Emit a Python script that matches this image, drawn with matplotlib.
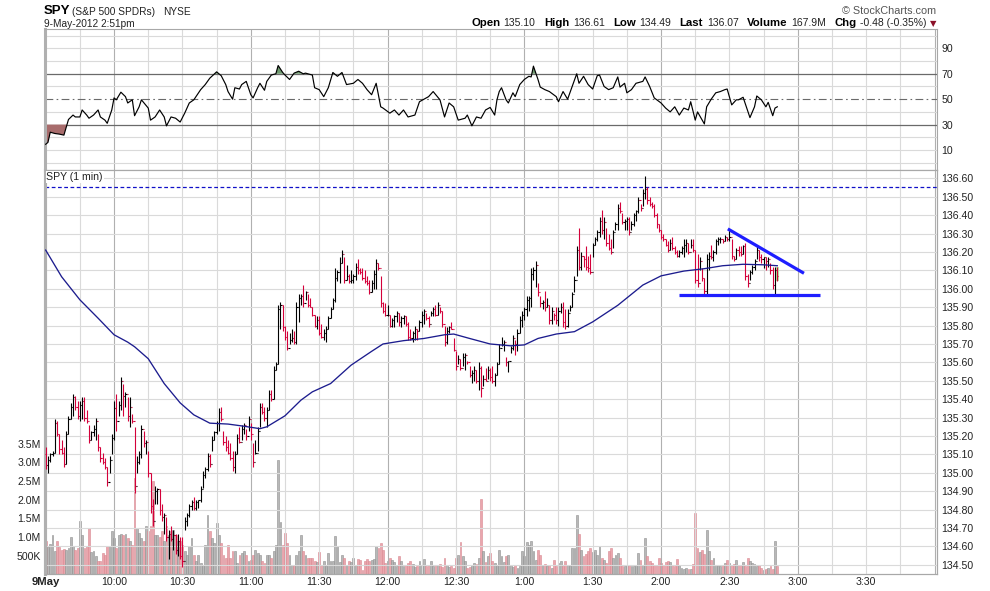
import numpy as np
import matplotlib
matplotlib.use("Agg")
import matplotlib.pyplot as plt
from matplotlib.collections import LineCollection
from matplotlib.patches import Rectangle

plt.rcParams['font.family'] = ['Liberation Sans', 'DejaVu Sans']

# ---- data ----
# one-minute bars starting 9:30, prices in cents above 134.00
PRICE_BASE = 134.00
first_open_c = 110

high_c = [
    114, 109, 111, 112, 129, 128, 121, 118, 114, 123,
    131, 138, 143, 142, 139, 139, 141, 141, 134, 126,
    123, 126, 130, 121, 114, 111, 108, 103, 109, 121,
    139, 143, 139, 152, 148, 144, 141, 141, 132, 125,
    109, 112, 126, 123, 118, 112, 100, 86, 93, 92,
    91, 83, 78, 76, 69, 71, 69, 67, 67, 65,
    65, 76, 78, 83, 85, 87, 85, 85, 93, 101,
    103, 111, 110, 120, 123, 128, 135, 136, 123, 120,
    118, 116, 112, 112, 121, 125, 126, 127, 124, 131,
    127, 116, 118, 125, 138, 138, 136, 136, 145, 145,
    158, 160, 191, 193, 191, 180, 177, 176, 178, 177,
    193, 197, 197, 202, 199, 197, 195, 190, 186, 185,
    185, 181, 178, 180, 185, 190, 195, 211, 210, 217,
    221, 217, 213, 208, 210, 208, 214, 216, 211, 211,
    210, 207, 205, 205, 210, 216, 214, 207, 193, 192,
    191, 186, 184, 186, 188, 187, 185, 186, 185, 182,
    178, 177, 180, 178, 183, 188, 189, 187, 185, 188,
    190, 191, 193, 190, 188, 180, 179, 180, 182, 173,
    166, 164, 162, 165, 165, 161, 158, 156, 158, 156,
    160, 158, 153, 157, 158, 157, 158, 154, 160, 170,
    174, 172, 163, 161, 169, 175, 172, 178, 185, 188,
    190, 196, 196, 211, 212, 215, 203, 196, 194, 199,
    195, 191, 190, 187, 190, 190, 192, 193, 189, 189,
    191, 198, 207, 223, 233, 220, 218, 223, 218, 219,
    225, 228, 232, 239, 243, 239, 233, 230, 227, 232,
    236, 246, 247, 241, 238, 239, 239, 237, 241, 243,
    250, 246, 254, 261, 255, 250, 247, 246, 241, 235,
    232, 230, 227, 226, 227, 228, 223, 221, 221, 223,
    227, 227, 225, 227, 227, 221, 219, 217, 211, 206,
    219, 220, 224, 221, 227, 228, 228, 227, 229, 228,
    232, 227, 218, 222, 223, 223, 224, 225, 208, 210,
    213, 216, 223, 221, 219, 217, 217, 217, 214, 212,
    212, 212,
]

low_c = [
    102, 100, 106, 109, 111, 120, 110, 110, 103, 105,
    121, 129, 131, 134, 129, 128, 129, 128, 127, 116,
    118, 120, 118, 112, 106, 105, 102, 93, 100, 110,
    118, 123, 131, 134, 131, 136, 128, 125, 127, 89,
    100, 105, 108, 114, 110, 98, 78, 71, 83, 83,
    77, 74, 67, 63, 53, 63, 58, 56, 55, 53,
    49, 69, 71, 76, 80, 80, 80, 81, 84, 92,
    97, 101, 103, 112, 118, 121, 123, 128, 115, 112,
    110, 107, 101, 100, 110, 116, 118, 121, 118, 123,
    118, 103, 110, 112, 125, 132, 128, 125, 134, 139,
    140, 156, 159, 178, 177, 172, 167, 170, 171, 170,
    170, 182, 191, 190, 194, 190, 190, 185, 179, 178,
    175, 173, 172, 171, 178, 184, 189, 193, 204, 203,
    214, 203, 205, 203, 203, 203, 205, 208, 208, 205,
    203, 202, 197, 198, 200, 200, 210, 190, 187, 185,
    185, 179, 179, 179, 182, 180, 179, 181, 180, 172,
    172, 171, 172, 172, 177, 179, 181, 183, 179, 185,
    185, 185, 186, 187, 179, 169, 170, 176, 178, 166,
    156, 159, 156, 158, 156, 159, 152, 149, 150, 149,
    145, 141, 147, 150, 151, 150, 149, 147, 153, 159,
    169, 166, 158, 155, 165, 167, 164, 166, 176, 179,
    183, 185, 188, 190, 205, 201, 196, 190, 189, 188,
    190, 181, 181, 183, 181, 180, 187, 179, 178, 179,
    188, 190, 198, 207, 210, 210, 212, 210, 209, 208,
    217, 224, 226, 228, 230, 227, 223, 221, 219, 222,
    232, 232, 241, 235, 232, 232, 229, 232, 234, 237,
    241, 242, 245, 249, 246, 245, 244, 239, 233, 231,
    227, 226, 223, 220, 221, 221, 219, 217, 217, 219,
    217, 220, 219, 222, 220, 203, 201, 210, 204, 197,
    197, 210, 216, 215, 219, 224, 225, 225, 226, 226,
    226, 216, 215, 216, 218, 218, 219, 205, 201, 205,
    208, 210, 216, 215, 214, 211, 210, 212, 208, 200,
    197, 204,
]

close_c = [
    104, 107, 110, 111, 127, 121, 113, 111, 105, 121,
    129, 136, 141, 136, 131, 137, 139, 130, 128, 118,
    122, 124, 128, 114, 108, 106, 103, 95, 107, 119,
    135, 128, 137, 150, 142, 143, 131, 136, 128, 93,
    106, 110, 124, 116, 117, 100, 82, 74, 90, 91,
    80, 76, 77, 65, 67, 64, 66, 58, 63, 55,
    52, 74, 77, 82, 84, 81, 84, 85, 91, 99,
    102, 109, 105, 118, 122, 127, 133, 129, 117, 114,
    111, 108, 103, 110, 119, 117, 124, 126, 120, 129,
    121, 106, 111, 123, 136, 133, 130, 134, 143, 140,
    156, 159, 189, 191, 179, 174, 168, 172, 173, 171,
    190, 195, 196, 192, 198, 191, 190, 186, 180, 183,
    176, 174, 176, 178, 184, 189, 194, 206, 209, 214,
    219, 205, 207, 204, 205, 207, 212, 210, 209, 206,
    204, 203, 198, 203, 208, 214, 211, 192, 188, 186,
    186, 180, 183, 185, 187, 182, 184, 185, 181, 174,
    173, 176, 178, 177, 182, 186, 188, 184, 181, 187,
    189, 186, 191, 188, 181, 171, 177, 179, 178, 167,
    158, 162, 157, 163, 164, 160, 153, 154, 156, 150,
    157, 146, 151, 150, 156, 152, 150, 153, 159, 168,
    170, 171, 160, 161, 168, 173, 170, 176, 183, 186,
    189, 194, 195, 208, 210, 213, 198, 192, 193, 190,
    191, 183, 188, 186, 183, 188, 190, 182, 180, 187,
    190, 197, 205, 221, 212, 218, 216, 212, 211, 209,
    224, 227, 231, 237, 232, 236, 225, 222, 220, 231,
    235, 244, 242, 236, 237, 238, 231, 235, 240, 242,
    248, 244, 252, 254, 248, 246, 245, 240, 235, 232,
    228, 227, 224, 221, 225, 222, 220, 218, 220, 222,
    224, 225, 220, 224, 221, 205, 203, 215, 206, 199,
    216, 218, 217, 220, 226, 227, 227, 226, 228, 227,
    228, 218, 216, 221, 220, 219, 223, 207, 203, 209,
    212, 215, 221, 217, 216, 217, 215, 216, 210, 202,
    210, 207,
]

# volume per bar, thousands of shares
volume_k = [
    885, 720, 810, 1060, 620, 900, 720, 660, 690, 660,
    705, 1000, 750, 660, 700, 1420, 1050, 700, 750, 1240,
    600, 615, 500, 350, 360, 570, 520, 750, 770, 1170,
    975, 710, 1050, 1080, 1050, 1080, 975, 885, 795, 2580,
    1240, 1100, 975, 885, 1300, 1150, 1300, 2500, 1060, 1060,
    1000, 1150, 885, 1300, 1060, 1150, 1200, 1060, 885, 885,
    790, 615, 520, 750, 975, 520, 350, 525, 300, 260,
    795, 1600, 1150, 975, 840, 1370, 1060, 840, 525, 435,
    795, 435, 615, 615, 300, 525, 570, 615, 520, 350,
    390, 525, 660, 570, 520, 350, 300, 525, 520, 435,
    615, 795, 3075, 1400, 795, 1100, 840, 525, 260, 260,
    520, 615, 1060, 615, 525, 435, 450, 438, 370, 340,
    600, 260, 350, 215, 570, 350, 350, 1036, 750, 340,
    527, 438, 260, 349, 340, 450, 260, 420, 393, 125,
    370, 420, 349, 393, 420, 750, 706, 840, 661, 304,
    349, 450, 393, 340, 215, 483, 349, 215, 259, 304,
    370, 280, 190, 215, 349, 259, 420, 215, 259, 349,
    215, 259, 259, 280, 190, 450, 259, 190, 215, 170,
    438, 527, 866, 483, 349, 170, 190, 259, 304, 280,
    450, 2030, 617, 340, 483, 572, 349, 304, 259, 661,
    483, 340, 483, 527, 259, 190, 259, 170, 215, 617,
    483, 866, 795, 884, 617, 393, 661, 527, 259, 280,
    215, 259, 170, 393, 215, 304, 349, 215, 349, 237,
    215, 706, 706, 1600, 1090, 661, 483, 545, 617, 706,
    600, 661, 527, 750, 438, 393, 304, 617, 706, 438,
    527, 572, 438, 215, 215, 259, 259, 215, 215, 237,
    572, 393, 259, 973, 483, 349, 304, 259, 259, 438,
    304, 259, 340, 349, 340, 259, 215, 420, 237, 170,
    150, 170, 150, 150, 280, 1640, 706, 600, 661, 545,
    1200, 617, 393, 450, 259, 215, 215, 259, 304, 393,
    304, 237, 280, 393, 237, 259, 340, 215, 450, 370,
    304, 280, 215, 259, 170, 125, 150, 170, 215, 150,
    884, 215,
]

# RSI read at these minute positions
rsi_at = [
    0, 1, 2, 4, 6, 8, 9, 10, 12, 13, 15, 16, 18, 19, 21, 23, 24, 26, 27, 29,
    30, 31, 33, 35, 36, 38, 39, 41, 42, 45, 46, 48, 50, 52, 53, 55, 57, 59, 61, 63,
    65, 68, 70, 72, 75, 77, 79, 80, 82, 83, 85, 86, 88, 90, 91, 93, 94, 96, 97, 99,
    101, 102, 104, 105, 107, 109, 111, 113, 114, 117, 118, 120, 122, 124, 126, 128, 130, 132, 135, 137,
    139, 141, 143, 145, 147, 148, 151, 153, 155, 157, 159, 162, 164, 166, 168, 170, 173, 175, 177, 179,
    181, 184, 185, 187, 189, 191, 193, 195, 197, 198, 199, 200, 202, 203, 205, 206, 208, 210, 212, 213,
    214, 216, 217, 219, 221, 224, 225, 227, 229, 231, 233, 234, 236, 238, 240, 242, 243, 245, 247, 249,
    251, 252, 254, 255, 257, 259, 262, 263, 265, 267, 270, 272, 274, 276, 278, 280, 282, 283, 285, 286,
    289, 290, 292, 294, 296, 298, 299, 301, 303, 304, 306, 309, 311, 312, 314, 316, 317, 319, 320, 321,
]
rsi_val = [
    14.5, 16, 24, 23, 22.5, 21.7, 28, 34, 37.5, 36, 36, 41.5, 37.5, 35, 37.5, 41.5, 36, 33.5, 31, 41.5,
    51, 49.5, 55.5, 52, 47, 49.5, 37, 44, 49.5, 43, 33.5, 36, 41.5, 36, 29, 36, 35, 32, 39, 47,
    49.5, 57.5, 61.5, 66.5, 71.5, 68.5, 61.5, 56, 50, 59, 58, 61.5, 64, 53.5, 51, 59, 62.5, 57, 64, 69,
    70, 76.5, 71, 69, 65.5, 70.5, 72, 70, 70.5, 69, 59, 57.5, 52, 59, 71, 68, 71, 61.5, 62.5, 65.5,
    62.5, 57.5, 53.5, 62.5, 44, 43, 39, 41.5, 37.5, 41.5, 36, 37.5, 48, 50, 52, 56, 49.5, 36, 47, 44,
    33.5, 35, 37.5, 29, 36, 35, 41.5, 43.5, 37.5, 49.5, 56, 59, 49.5, 47, 55, 52, 61.5, 65.5, 68, 67.5,
    76, 65.5, 59.5, 57.5, 56, 52, 48, 56, 50, 60, 70, 62.5, 68, 61.5, 58, 68.5, 69, 60, 57.5, 59,
    67.5, 59.5, 62.5, 55, 57.5, 62.5, 64, 67.5, 60, 51, 47, 43, 40, 44, 37.5, 43, 41.5, 48, 33.5, 40,
    30.5, 44, 50, 55, 56, 57.5, 58, 45.5, 49.5, 49.5, 51.5, 35.5, 44, 52.5, 49.5, 44, 47.5, 37, 43, 44,
]

# moving average read at these minute positions
ma_at = [0, 7, 15, 23, 30, 36, 39, 45, 52, 59, 65, 72, 80, 86, 94, 97, 105, 112, 117, 125,
         134, 143, 148, 157, 166, 175, 179, 186, 195, 204, 210, 216, 224, 232, 240, 251, 262, 270, 280, 289,
         297, 306, 315, 321]
ma_val = [136.21, 136.065, 135.94, 135.84, 135.75, 135.71, 135.685, 135.62, 135.485, 135.38,
          135.315, 135.27, 135.265, 135.255, 135.24, 135.25, 135.31, 135.395, 135.44, 135.485,
          135.585, 135.66, 135.70, 135.718, 135.73, 135.75, 135.754, 135.73, 135.70, 135.69,
          135.695, 135.73, 135.754, 135.767, 135.82, 135.91, 136.02, 136.07, 136.096, 136.109,
          136.125, 136.133, 136.13, 136.125]

prev_close = 136.55
falling_at = [299.3, 332.7]
falling_val = [136.325, 136.084]
flat_at = [277.9, 339.8]
flat_val = [135.967, 135.967]

time_at = [0, 30, 60, 90, 120, 150, 180, 210, 240, 270, 300, 330, 360]
time_lbl = ['9May', '10:00', '10:30', '11:00', '11:30', '12:00', '12:30',
            '1:00', '1:30', '2:00', '2:30', '3:00', '3:30']
vol_ticks = [500, 1000, 1500, 2000, 2500, 3000, 3500]
vol_lbl = ['500K', '1.0M', '1.5M', '2.0M', '2.5M', '3.0M', '3.5M']
rsi_ticks = [10, 30, 50, 70, 90]

header = [("Open", "135.10"), ("High", "136.61"), ("Low", "134.49"),
          ("Last", "136.07"), ("Volume", "167.9M"), ("Chg", "-0.48 (-0.35%)")]

# ---- derived series ----
t = np.arange(len(close_c))
hi = PRICE_BASE + np.array(high_c) / 100
lo = PRICE_BASE + np.array(low_c) / 100
cl = PRICE_BASE + np.array(close_c) / 100
op = np.r_[PRICE_BASE + first_open_c / 100, cl[:-1]]
down = cl < op

# ---- layout (pixel geometry of the original) ----
W, H = 990, 591
fig = plt.figure(figsize=(W / 100, H / 100), dpi=100)
fig.patch.set_facecolor('white')

def fx(px):
    return px / W

def fy(py):
    return 1 - py / H

L, R = 45, 937.3
ax_rsi = fig.add_axes([fx(L), fy(170), (R - L) / W, (170 - 29.3) / H])
ax_vol = fig.add_axes([fx(L), fy(574.3), (R - L) / W, (574.3 - 170) / H])
ax = ax_vol.twinx()

XMIN, XMAX = -0.3, 391.2
GRID_LIGHT = '#dadada'
GRID_DARK = '#b0b0b0'
SPINE = '#a8a8a8'
RED = '#d4003a'
TXT = 7.6

for a in (ax_rsi, ax_vol, ax):
    a.set_xlim(XMIN, XMAX)
    for s in a.spines.values():
        s.set_color(SPINE)
        s.set_linewidth(0.8)
    a.spines['left'].set_linewidth(2.2)
    a.spines['left'].set_color('#b0b0b0')

# vertical grid every 15 minutes, darker on the hour
for m in range(15, 391, 15):
    c = GRID_DARK if m % 60 == 30 else GRID_LIGHT
    ax_rsi.axvline(m, color=c, lw=0.8, zorder=0)
    ax.axvline(m, color=c, lw=0.8, zorder=0)

# ---- RSI panel ----
ax_rsi.set_ylim(-5.75, 105)
for v in range(0, 101, 10):
    if v in (30, 70):
        ax_rsi.axhline(v, color='#6a6a6a', lw=0.9, zorder=1)
    elif v == 50:
        ax_rsi.axhline(v, color='#6a6a6a', lw=0.8, ls=(0, (7, 3, 1.5, 3)), zorder=1)
    else:
        ax_rsi.axhline(v, color=GRID_LIGHT, lw=0.8, zorder=0)
ra = np.array(rsi_at, dtype=float)
rv = np.array(rsi_val, dtype=float)
ax_rsi.fill_between(ra, rv, 70, where=rv > 70, interpolate=True, color='#6f9a6f', lw=0, zorder=2)
ax_rsi.fill_between(ra, rv, 30, where=rv < 30, interpolate=True, color='#a86c6c', lw=0, zorder=2)
ax_rsi.plot(ra, rv, color='black', lw=0.85, zorder=3)
ax_rsi.set_xticks([])
ax_rsi.yaxis.tick_right()
ax_rsi.set_yticks(rsi_ticks)
ax_rsi.set_yticklabels([str(v) for v in rsi_ticks])
ax_rsi.tick_params(axis='y', length=0, pad=3, labelsize=TXT, labelcolor='#222222')

# ---- volume (left scale, behind price) ----
ax_vol.set_ylim(0, 10840)
vol_face = np.where(down, '#eaa6ad', '#b8b8b8')
vol_edge = np.where(down, '#d98891', '#8e8e8e')
ax_vol.bar(t, volume_k, width=0.8, color=vol_face, edgecolor=vol_edge, linewidth=0.4, zorder=2)
ax_vol.set_yticks(vol_ticks)
ax_vol.set_yticklabels(vol_lbl)
ax_vol.tick_params(axis='y', length=0, pad=3, labelsize=TXT, labelcolor='#222222')
ax_vol.set_xticks(time_at)
ax_vol.set_xticklabels(time_lbl)
ax_vol.tick_params(axis='x', length=0, pad=2, labelsize=TXT, labelcolor='#222222')
first = ax_vol.get_xticklabels()[0]
first.set_fontweight('bold')
first.set_fontsize(8.2)

# ---- price panel ----
ax.set_ylim(134.449, 136.645)
price_ticks = np.round(np.arange(134.5, 136.65, 0.1), 2)
for p in price_ticks:
    ax.axhline(p, color=GRID_LIGHT, lw=0.8, zorder=0)
ax.set_yticks(price_ticks)
ax.set_yticklabels(['%.2f' % p for p in price_ticks])
ax.tick_params(axis='y', length=0, pad=3, labelsize=TXT, labelcolor='#222222')

ax.axhline(prev_close, color='#1010c8', lw=0.9, ls=(0, (3, 2)), zorder=1)

# highlight behind the latest bar
ax.add_patch(Rectangle((t[-1] - 0.7, lo[-1]), 1.4, hi[-1] - lo[-1],
                       facecolor='#b4eea4', edgecolor='none', zorder=1))

segs, cols = [], []
for i in t:
    c = RED if down[i] else 'black'
    segs += [[(i, lo[i]), (i, hi[i])],
             [(i - 0.5, op[i]), (i, op[i])],
             [(i, cl[i]), (i + 0.5, cl[i])]]
    cols += [c, c, c]
ax.add_collection(LineCollection(segs, colors=cols, linewidths=0.8, zorder=3))

ax.plot(ma_at, ma_val, color='#1c1c8e', lw=0.95, zorder=4)
ax.plot(falling_at, falling_val, color='#1e1eff', lw=2.3, solid_capstyle='butt', zorder=5)
ax.plot(flat_at, flat_val, color='#1e1eff', lw=2.3, solid_capstyle='butt', zorder=5)

fig.text(fx(46.5), fy(177.3), 'SPY (1 min)', fontsize=TXT, va='center', ha='left',
         color='#222222', bbox=dict(facecolor='white', edgecolor='none', pad=0.6))

# ---- header ----
fig.text(fx(44), fy(11.5), 'SPY', fontsize=9.5, fontweight='bold', va='center', ha='left')
fig.text(fx(71.5), fy(12), '(S&P 500 SPDRs)', fontsize=7.3, va='center', ha='left', color='#222222')
fig.text(fx(163), fy(12), 'NYSE', fontsize=7.3, va='center', ha='left', color='#222222')
fig.text(fx(44.5), fy(24), '9-May-2012 2:51pm', fontsize=7.3, va='center', ha='left', color='#222222')
fig.text(fx(936.5), fy(10.5), '\u00a9 StockCharts.com', fontsize=7.8, va='center', ha='right',
         color='#555555')

renderer = fig.canvas.get_renderer()
items = []
for lab, val in header:
    t1 = fig.text(0, fy(23.5), lab, fontsize=8.2, fontweight='bold', va='center', ha='left')
    t2 = fig.text(0, fy(23.5), val, fontsize=7.5, va='center', ha='left', color='#222222')
    items.append((t1, t1.get_window_extent(renderer).width))
    items.append((t2, t2.get_window_extent(renderer).width))
gaps = [3.5 if k % 2 == 0 else 8.5 for k in range(len(items))]
total = sum(w for _, w in items) + sum(gaps[:-1])
x = 926.5 - total
for k, (txt, w) in enumerate(items):
    txt.set_x(fx(x))
    x += w + gaps[k]
fig.text(fx(933), fy(24), '\u25bc', fontsize=6, va='center', ha='center', color='#8b1028',
         family='DejaVu Sans')

fig.savefig('out.png', dpi=100)
